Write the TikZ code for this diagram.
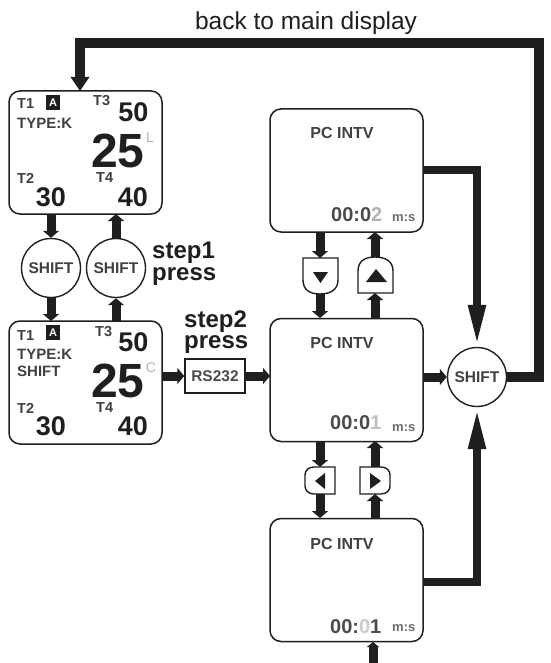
\documentclass[tikz,border=0pt]{standalone}
\usepackage{fontspec}
\setmainfont{Liberation Sans}
\usetikzlibrary{arrows.meta}
\definecolor{ink}{gray}{0.12}
\tikzset{
 x=1pt,y=-1pt,
 panel/.style={draw=ink,line width=1.5pt,rounded corners=11pt,fill=white,inner sep=0pt,minimum width=153pt,minimum height=123pt},
 shiftbtn/.style={circle,draw=ink,line width=1.4pt,fill=white,minimum size=59pt,inner sep=0pt,font=\bfseries\fontsize{15.5}{15.5}\selectfont,text=ink!85},
 rsbox/.style={draw=ink,line width=1.5pt,fill=white,minimum width=60pt,minimum height=34pt,inner sep=0pt,font=\bfseries\fontsize{15.5}{15.5}\selectfont,text=ink!80},
 thick arrow/.style={line width=9pt,draw=ink,-{Triangle[length=7pt,width=16pt]}},
 big arrow/.style={line width=8pt,draw=ink,line join=miter,-{Triangle[length=42pt,width=16pt]}},
 caption/.style={font=\bfseries\fontsize{24}{24}\selectfont,text=ink,inner sep=0pt,anchor=base west},
 small/.style={font=\bfseries\fontsize{14.5}{14.5}\selectfont,text=ink!85,inner sep=0pt,anchor=west},
 mid/.style={font=\bfseries\fontsize{27}{27}\selectfont,text=ink,inner sep=0pt},
 huge/.style={font=\bfseries\fontsize{48}{48}\selectfont,text=ink,inner sep=0pt},
 title/.style={font=\bfseries\fontsize{16}{16}\selectfont,text=ink!85,inner sep=0pt},
 clock/.style={font=\bfseries\fontsize{20}{20}\selectfont,text=ink!80,inner sep=0pt,anchor=west},
 unit/.style={font=\bfseries\fontsize{13}{13}\selectfont,text=ink!65,inner sep=0pt,anchor=west},
 faint/.style={font=\fontsize{14}{14}\selectfont,text=black!30,inner sep=0pt},
 keybox/.style={draw=ink,line width=1.4pt,fill=white},
 glyph/.style={fill=ink,draw=none},
}
\begin{document}
\begin{tikzpicture}
\useasboundingbox (0,0) rectangle (550,663);
\fill[white] (0,0) rectangle (550,663);
% panels
\node[panel] (L1) at (85.5,152.5) {};
\node[panel] (L2) at (85.5,382.5) {};
\node[panel] (P1) at (346.5,170.5) {};
\node[panel] (P2) at (346.5,380) {};
\node[panel] (P3) at (346.5,580) {};
\node[shiftbtn] (SA) at (51,268) {SHIFT};
\node[shiftbtn] (SB) at (116,268) {SHIFT};
\node[shiftbtn] (SC) at (477,377) {SHIFT};
\node[rsbox] (RS) at (215,376) {RS232};
% key caps
\draw[keybox] (303,258) -- (338,258) -- (338,280) .. controls (338,290) and (330,294) .. (320,294) .. controls (310,294) and (303,290) .. (303,280) -- cycle;
\fill[glyph] (313,272) -- (328,272) -- (320.5,283) -- cycle;
\draw[keybox] (358,293) -- (393,293) -- (393,271) .. controls (393,261) and (385,257) .. (375,257) .. controls (365,257) and (358,261) .. (358,271) -- cycle;
\fill[glyph] (366,282) -- (387,282) -- (376,269) -- cycle;
\draw[keybox] (335,467) -- (335,494) -- (314,494) .. controls (308,494) and (305,490) .. (305,486) -- (305,475) .. controls (305,471) and (308,467) .. (314,467) -- cycle;
\fill[glyph] (315,481) -- (325,473) -- (325,489) -- cycle;
\draw[keybox] (360,467) -- (360,494) -- (381,494) .. controls (387,494) and (390,490) .. (390,486) -- (390,475) .. controls (390,471) and (387,467) .. (381,467) -- cycle;
\fill[glyph] (381,481) -- (370,473) -- (370,489) -- cycle;
\coordinate (D1) at (320,258); \coordinate (D2) at (320,294);
\coordinate (U1) at (375,293); \coordinate (U2) at (375,257);
\coordinate (Lf1) at (320,467); \coordinate (Lf2) at (320,494);
\coordinate (Rt1) at (375,494); \coordinate (Rt2) at (375,467);
% short connectors
\draw[thick arrow] (51,214) -- (SA.north);
\draw[thick arrow] (SA.south) -- (51,321);
\draw[thick arrow] (116,321) -- (SB.south);
\draw[thick arrow] (SB.north) -- (116,214);
\draw[thick arrow] (162,376) -- (RS.west);
\draw[thick arrow] (RS.east) -- (270,376);
\draw[thick arrow] (320,232) -- (D1);
\draw[thick arrow] (D2) -- (320,318);
\draw[thick arrow] (375,318) -- (U1);
\draw[thick arrow] (U2) -- (375,232);
\draw[thick arrow] (320,441) -- (Lf1);
\draw[thick arrow] (Lf2) -- (320,518);
\draw[thick arrow] (375,518) -- (Rt1);
\draw[thick arrow] (Rt2) -- (375,441);
\coordinate (bottomin) at (373,663);
\draw[line width=9pt,draw=ink,-{Triangle[length=5pt,width=12pt]}] (bottomin) -- (373,642);
\draw[thick arrow] (423,377) -- (SC.west);
% long connectors
\draw[big arrow] (423,170) -| (SC.north);
\draw[big arrow] (423,582) -| (SC.south);
\coordinate (bk1) at (539,377); \coordinate (bk2) at (539,43); \coordinate (bk3) at (80,43);
\draw[line width=9.5pt,draw=ink,line join=miter,-{Triangle[length=14pt,width=18pt]}] (SC.east) -- (bk1) -- (bk2) -- (bk3) -- (80,91);
% left panel 1
\node[small] (a1) at (17,104) {T1};
\node[small,font=\bfseries\fontsize{15}{15}\selectfont] (a2) at (17,123) {TYPE:K};
\node[small] (a3) at (93,101) {T3};
\node[small] (a4) at (17,178) {T2};
\node[small] (a5) at (96,178) {T4};
\node[mid] (a6) at (133.5,112) {50};
\node[huge] (a7) at (118,151) {25};
\node[mid] (a8) at (51,197) {30};
\node[mid] (a9) at (133,197) {40};
\node[faint] (a10) at (150,138) {L};
\fill[ink] (46,95) rectangle (60,110);
\node[font=\bfseries\fontsize{11}{11}\selectfont,text=white,inner sep=0pt] (a11) at (53,102.5) {A};
% left panel 2
\node[small] (b1) at (17,336) {T1};
\node[small,font=\bfseries\fontsize{15}{15}\selectfont] (b2) at (17,354) {TYPE:K};
\node[small,font=\bfseries\fontsize{15}{15}\selectfont] (b3) at (17,371) {SHIFT};
\node[small] (b4) at (95,332) {T3};
\node[small] (b5) at (17,408) {T2};
\node[small] (b6) at (96,408) {T4};
\node[mid] (b7) at (133.5,342) {50};
\node[huge] (b8) at (118,381) {25};
\node[mid] (b9) at (51,426) {30};
\node[mid] (b10) at (133,426) {40};
\node[faint] (b11) at (151,368) {C};
\fill[ink] (46,325) rectangle (60,340);
\node[font=\bfseries\fontsize{11}{11}\selectfont,text=white,inner sep=0pt] (b12) at (53,332.5) {A};
% right panels
\node[title] (c1) at (342,133) {PC INTV};
\node[clock] (c2) at (331,215) {00:0\textcolor{black!30}{2}};
\node[unit] (c3) at (392,218) {m:s};
\node[title] (d1) at (342,343) {PC INTV};
\node[clock] (d2) at (330,423) {00:0\textcolor{black!25}{1}};
\node[unit] (d3) at (392,428) {m:s};
\node[title] (e1) at (342,544) {PC INTV};
\node[clock] (e2) at (330,627) {00:\textcolor{black!20}{0}1};
\node[unit] (e3) at (392,628) {m:s};
% captions
\node[font=\fontsize{24.5}{24.5}\selectfont,text=ink,inner sep=0pt,anchor=base] (t0) at (306,30) {back to main display};
\node[caption] (t1) at (152,258) {step1};
\node[caption] (t2) at (152,280) {press};
\node[caption] (t3) at (184,327) {step2};
\node[caption] (t4) at (184,348) {press};
\end{tikzpicture}
\end{document}
